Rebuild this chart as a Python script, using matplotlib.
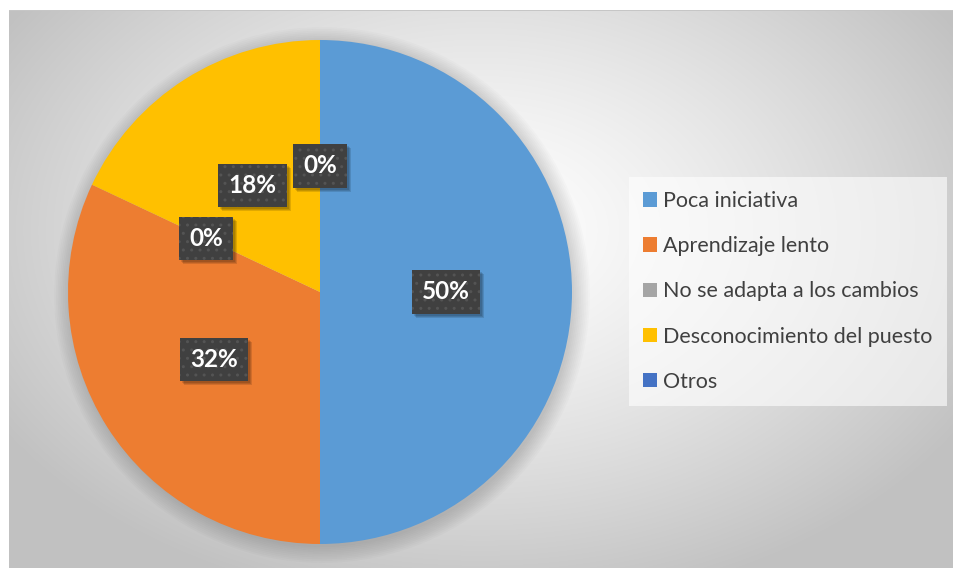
import matplotlib.pyplot as plt
import numpy as np
from matplotlib.patches import Patch, Circle, Rectangle
from matplotlib.transforms import IdentityTransform

# data
categories = ['Poca iniciativa', 'Aprendizaje lento', 'No se adapta a los cambios',
              'Desconocimiento del puesto', 'Otros']
values = [50, 32, 0, 18, 0]
labels = ['50%', '32%', '0%', '18%', '0%']
colors = ['#5B9BD5', '#ED7D31', '#A5A5A5', '#FFC000', '#4472C4']

W, H = 954, 568
fig = plt.figure(figsize=(W / 100, H / 100), dpi=100)

# background with radial gradient
bg = fig.add_axes([0, 0, 1, 1])
yy, xx = np.mgrid[0:H, 0:W]
r = np.sqrt(((xx - 480) / 560.0) ** 2 + ((yy - 230) / 380.0) ** 2)
val = 1.0 - 0.24 * np.clip(r, 0, 1) ** 1.3
img = np.dstack([val, val, val])
img[:, :9] = 1.0
img[:10, :] = 1.0
img[10, 9:] = 0.78
bg.imshow(img, extent=[0, W, H, 0], aspect='auto', interpolation='bilinear')
bg.set_xlim(0, W)
bg.set_ylim(H, 0)
bg.axis('off')

# pie
cx, cy, R = 320, 292, 252
ax = fig.add_axes([(cx - R) / W, (H - cy - R) / H, 2 * R / W, 2 * R / H])
ax.set_facecolor('none')

# soft shadow around pie
for k in range(10):
    ax.add_patch(Circle((0.008, -0.012), 1.0 + 0.007 * k, color='black',
                        alpha=0.015, lw=0, zorder=0, clip_on=False))

wedges, texts = ax.pie(values, colors=colors, startangle=90, counterclock=False,
                       radius=1.0, labels=None, wedgeprops=dict(linewidth=0))

# data labels at half the radius
total = sum(values)
ang = 90.0
label_texts = []
for v, lab in zip(values, labels):
    span = 360.0 * v / total
    mid = np.deg2rad(ang - span / 2)
    ang -= span
    x, y = 0.5 * np.cos(mid), 0.5 * np.sin(mid)
    t = ax.text(x, y, lab, ha='center', va='center', fontsize=17.5,
                fontweight='bold', family='Lato', color='white', zorder=5,
                bbox=dict(boxstyle='square,pad=0.42', facecolor='#404040',
                          edgecolor='#545454', linewidth=0, hatch='..'))
    label_texts.append(t)

ax.set_xlim(-1, 1)
ax.set_ylim(-1, 1)
ax.axis('off')

# drop shadows behind the label boxes
fig.canvas.draw()
for t in label_texts:
    bb = t.get_bbox_patch().get_window_extent()
    for k in range(3):
        ax.add_patch(Rectangle((bb.x0 + 2 + k, bb.y0 - 2 - k), bb.width, bb.height,
                               transform=IdentityTransform(), facecolor='black',
                               alpha=0.12, edgecolor='none', zorder=4, clip_on=False))

# legend
handles = [Patch(facecolor=c, edgecolor='none') for c in colors]
leg = fig.legend(handles, categories, loc='upper left',
                 bbox_to_anchor=(629 / W, 1 - 177 / H), frameon=True,
                 borderaxespad=0, labelspacing=1.17, handlelength=0.64,
                 handleheight=0.64, handletextpad=0.3, borderpad=0.65,
                 prop={'family': 'Lato', 'size': 15.5})
leg.get_frame().set_facecolor('white')
leg.get_frame().set_alpha(0.6)
leg.get_frame().set_edgecolor('none')
leg.get_frame().set_boxstyle('square', pad=0)
for t in leg.get_texts():
    t.set_color('#404040')

fig.savefig('out.png', dpi=100)
